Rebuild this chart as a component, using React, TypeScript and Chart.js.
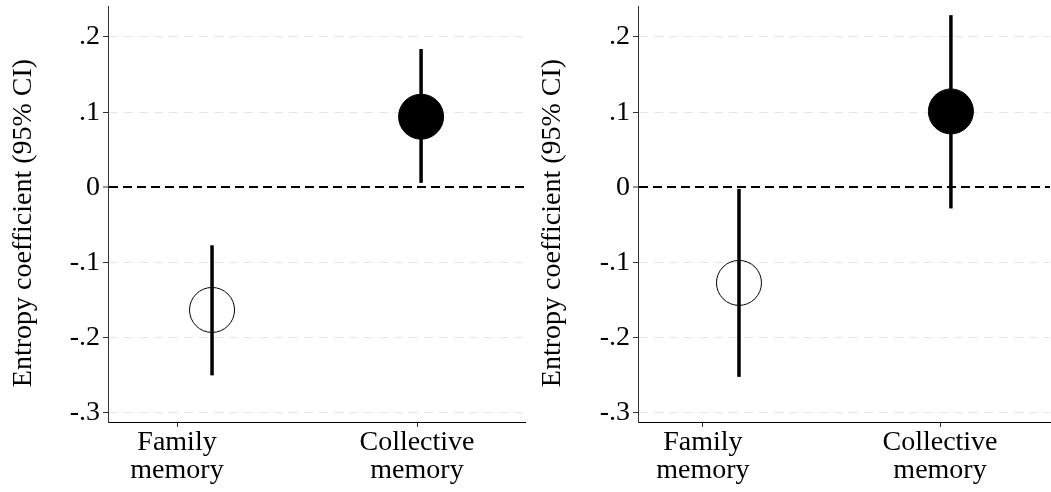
import React, { useEffect, useRef } from 'react';
import { Chart, registerables } from 'chart.js';
Chart.register(...registerables);

const categories = [['Family', 'memory'], ['Collective', 'memory']];
const categoryTicks = [1, 2];
const yTickValues = [-0.3, -0.2, -0.1, 0, 0.1, 0.2];
const yTickLabels = ['-.3', '-.2', '-.1', '0', '.1', '.2'];
const yAxisTitle = 'Entropy coefficient (95% CI)';
const markerFilled = [false, true];

// Left panel
const leftMarkerX = [1.146, 2.017];
const leftEstimate = [-0.163, 0.094];
const leftLower = [-0.25, 0.006];
const leftUpper = [-0.077, 0.184];

// Right panel
const rightMarkerX = [1.152, 2.046];
const rightEstimate = [-0.127, 0.101];
const rightLower = [-0.252, -0.028];
const rightUpper = [-0.002, 0.229];

const FONT = "'Liberation Serif', 'Times New Roman', serif";

type Panel = {
  markerX: number[];
  est: number[];
  lo: number[];
  hi: number[];
  xMin: number;
  xMax: number;
  yWidth: number;
  padRight: number;
  titleX: number;
};

function makeConfig(p: Panel): any {
  const ciSets = p.markerX.map((x, i) => ({
    type: 'scatter',
    data: [{ x, y: p.lo[i] }, { x, y: p.hi[i] }],
    showLine: true,
    borderColor: '#000',
    borderWidth: 3.5,
    pointRadius: 0,
    order: 0,
  }));
  const pointSet = {
    type: 'scatter',
    data: p.est.map((y, i) => ({ x: p.markerX[i], y })),
    pointRadius: 22.5,
    pointBackgroundColor: markerFilled.map((f) => (f ? '#000' : 'rgba(0,0,0,0)')),
    pointBorderColor: '#000',
    pointBorderWidth: 1,
    showLine: false,
    order: 1,
  };
  const titlePlugin = {
    id: 'yTitle',
    afterDraw(chart: any) {
      const { ctx, chartArea } = chart;
      ctx.save();
      ctx.translate(p.titleX, (chartArea.top + chartArea.bottom) / 2 + 9);
      ctx.rotate(-Math.PI / 2);
      ctx.font = `28px ${FONT}`;
      ctx.fillStyle = '#000';
      ctx.textAlign = 'center';
      ctx.textBaseline = 'middle';
      ctx.fillText(yAxisTitle, 0, 0);
      ctx.restore();
    },
  };
  return {
    type: 'scatter',
    data: { datasets: [pointSet, ...ciSets] },
    plugins: [titlePlugin],
    options: {
      responsive: false,
      animation: false,
      events: [],
      layout: { autoPadding: false, padding: { top: 6, right: p.padRight, bottom: 0, left: 0 } },
      plugins: { legend: { display: false }, tooltip: { enabled: false } },
      scales: {
        x: {
          type: 'linear',
          min: p.xMin,
          max: p.xMax,
          afterBuildTicks: (s: any) => {
            s.ticks = categoryTicks.map((v) => ({ value: v }));
          },
          afterFit: (s: any) => {
            s.height = 70;
            s.paddingLeft = 0;
            s.paddingRight = 0;
          },
          ticks: {
            callback: (_v: any, i: number) => categories[i],
            font: { family: FONT, size: 28, lineHeight: 1.0 },
            color: '#000',
            padding: 2,
            maxRotation: 0,
            autoSkip: false,
          },
          grid: {
            drawOnChartArea: false,
            drawTicks: true,
            tickLength: 5,
            tickColor: '#333',
            tickWidth: 1,
          },
          border: { display: true, color: '#000', width: 1 },
        },
        y: {
          type: 'linear',
          min: -0.312,
          max: 0.2412,
          afterBuildTicks: (s: any) => {
            s.ticks = yTickValues.map((v) => ({ value: v }));
          },
          afterFit: (s: any) => {
            s.width = p.yWidth;
            s.paddingTop = 0;
            s.paddingBottom = 0;
          },
          ticks: {
            callback: (_v: any, i: number) => yTickLabels[i],
            font: { family: FONT, size: 28, lineHeight: 0.1 },
            color: '#000',
            padding: 3,
          },
          grid: {
            color: (c: any) => (c.tick && Math.abs(c.tick.value) < 1e-9 ? '#000' : '#e6e6e6'),
            lineWidth: (c: any) => (c.tick && Math.abs(c.tick.value) < 1e-9 ? 2 : 1),
            drawTicks: true,
            tickLength: 5,
            tickColor: '#333',
            tickWidth: 1,
            tickBorderDash: [],
          },
          border: {
            display: true,
            color: '#333',
            width: 1,
            dash: (c: any) => (c.tick && Math.abs(c.tick.value) < 1e-9 ? [9, 5] : [9, 6]),
          },
          title: { display: false },
        },
      },
    },
  };
}

export default function App() {
  const leftRef = useRef<HTMLCanvasElement>(null);
  const rightRef = useRef<HTMLCanvasElement>(null);

  useEffect(() => {
    const c1 = new Chart(
      leftRef.current as HTMLCanvasElement,
      makeConfig({
        markerX: leftMarkerX,
        est: leftEstimate,
        lo: leftLower,
        hi: leftUpper,
        xMin: 0.7125,
        xMax: 2.45,
        yWidth: 108,
        padRight: 3,
        titleX: 24,
      })
    );
    const c2 = new Chart(
      rightRef.current as HTMLCanvasElement,
      makeConfig({
        markerX: rightMarkerX,
        est: rightEstimate,
        lo: rightLower,
        hi: rightUpper,
        xMin: 0.726,
        xMax: 2.464,
        yWidth: 110,
        padRight: 1,
        titleX: 25,
      })
    );
    return () => {
      c1.destroy();
      c2.destroy();
    };
  }, []);

  return (
    <div style={{ position: 'absolute', left: 0, top: 0, width: 1051, height: 492, background: '#fff' }}>
      <canvas ref={leftRef} width={528} height={492} style={{ position: 'absolute', left: 0, top: 0 }} />
      <canvas ref={rightRef} width={523} height={492} style={{ position: 'absolute', left: 528, top: 0 }} />
    </div>
  );
}
